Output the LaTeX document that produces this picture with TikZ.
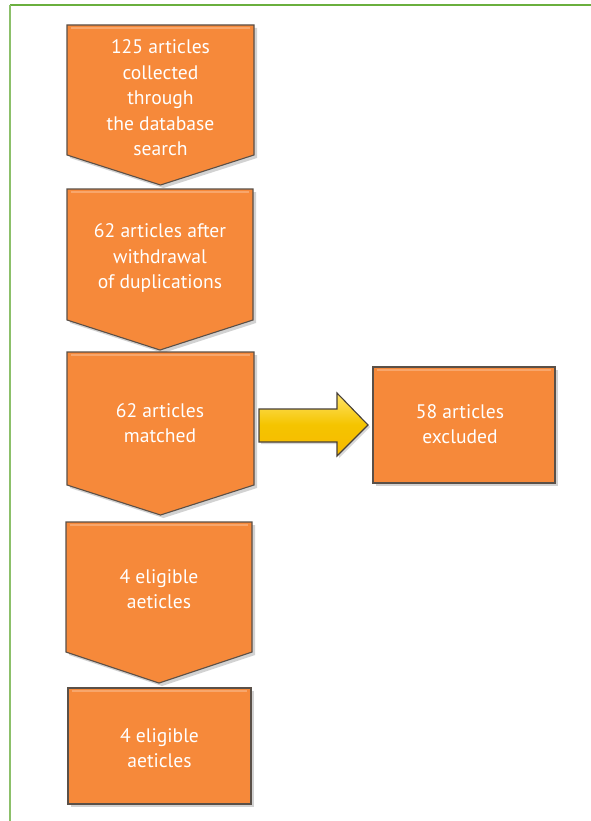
\documentclass[tikz,border=0pt]{standalone}
\usepackage{fontspec}
\setmainfont{PT Sans}
\usetikzlibrary{shadows}
\definecolor{boxorange}{HTML}{F6893A}
\definecolor{boxedge}{HTML}{5A5048}
\definecolor{arrowyellow}{HTML}{F5C400}
\definecolor{arrowlight}{HTML}{FFE46A}
\definecolor{framegreen}{HTML}{6AAF3E}
\definecolor{framegreenlight}{HTML}{8CC06A}
\tikzset{
  boxshape/.style={fill=boxorange, draw=boxedge, line width=1.1pt, line join=miter,
    drop shadow={opacity=0.35, shadow xshift=3pt, shadow yshift=-3pt}},
  bevel/.style={draw=white, opacity=0.25, line width=2pt},
  boxtext/.style={text=white, align=center, font=\fontsize{19.6}{25.5}\selectfont, inner sep=0pt},
  yarrow/.style={top color=arrowlight, bottom color=arrowyellow!85!orange, middle color=arrowyellow,
    draw=boxedge!80!black, line width=1.1pt, line join=miter,
    drop shadow={opacity=0.3, shadow xshift=2pt, shadow yshift=-2pt}}
}
\newcommand{\pentbox}[5]{% left, right, top, side bottom, point
  \draw[boxshape] (#1,#3) -- (#2,#3) -- (#2,#4) -- ({(#1+#2)/2},#5) -- (#1,#4) -- cycle;
  \draw[bevel] ({#1+4},{#3+3}) -- ({#2-4},{#3+3});
}
\begin{document}
\begin{tikzpicture}[x=1pt,y=-1pt]
\useasboundingbox (0,0) rectangle (590,821);
\fill[white] (0,0) rectangle (590,821);
% frame
\draw[framegreen, line width=2.2pt] (10,5) -- (592,5);
\draw[framegreenlight, line width=1.4pt] (10,5) -- (10,823);

% boxes
\pentbox{67}{254}{25}{155}{185}
\pentbox{67}{253}{189}{320}{350}
\pentbox{67}{254}{352}{485}{515}
\pentbox{66}{252}{522}{652}{683}
\draw[boxshape] (68,688) rectangle (251,804);
\draw[bevel] (72,691) -- (247,691);
\draw[boxshape] (373,367) rectangle (555,483);
\draw[bevel] (377,370) -- (551,370);

\node[boxtext] (b1) at (160.5,98) {125 articles\\collected\\through\\the database\\search};
\node[boxtext] (b2) at (160,258) {62 articles after\\withdrawal\\of duplications};
\node[boxtext] (b3) at (160,423) {62 articles\\matched};
\node[boxtext] (b4) at (159,589) {4 eligible\\aeticles};
\node[boxtext] (b5) at (159.5,748) {4 eligible\\aeticles};
\node[boxtext] (b6) at (460,424) {58 articles\\excluded};

% yellow arrow
\coordinate (as) at (259,425);
\coordinate (at) at (368,425);
\draw[yarrow] (259,409) -- (337,409) -- (337,393) -- (368,425) -- (337,456) -- (337,442) -- (259,442) -- cycle;
\end{tikzpicture}
\end{document}
